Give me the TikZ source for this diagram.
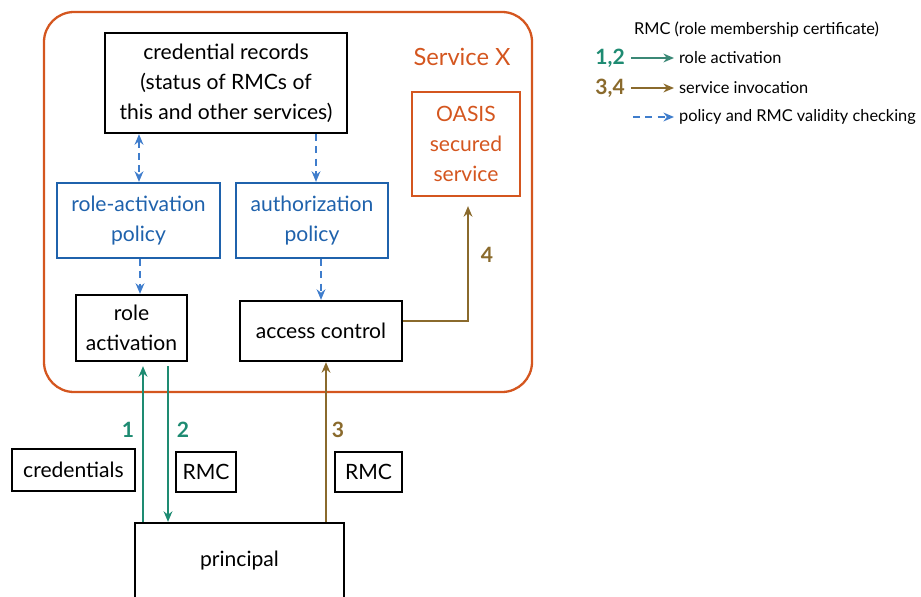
\documentclass[tikz,border=0pt]{standalone}
\usepackage{fontspec}
\setmainfont{Lato}
\usepackage{tikz}
\usetikzlibrary{positioning, arrows.meta, calc}
\definecolor{servcol}{HTML}{D4561F}
\definecolor{polcol}{HTML}{1F62AC}
\definecolor{chkcol}{HTML}{3F7DCC}
\definecolor{actcol}{HTML}{1E8B72}
\definecolor{invcol}{HTML}{8A6A2C}
\tikzset{
  % plain black box
  box/.style={draw=black, line width=1.3pt, align=center, inner sep=2pt,
              font=\fontsize{12}{17}\selectfont},
  % blue policy box
  policy/.style={box, draw=polcol, text=polcol},
  % orange secured service
  secured/.style={box, draw=servcol, text=servcol},
  % arrows
  act arrow/.style={-{Stealth[length=6pt,width=5pt]}, actcol, line width=1pt},
  inv arrow/.style={-{Stealth[length=6pt,width=5pt]}, invcol, line width=1pt},
  check arrow/.style={-{Stealth[length=6pt,width=5pt]}, chkcol, dashed,
                      dash pattern=on 4pt off 3pt, line width=1pt},
  % step numbers
  num/.style={font=\bfseries\fontsize{12}{14}\selectfont, text=#1},
  legend/.style={font=\fontsize{9.3}{12}\selectfont, anchor=west, inner sep=1pt},
}

\begin{document}
\begin{tikzpicture}
  \useasboundingbox (0,0) rectangle (18.42,-11.92);
  % service frame
  \draw[servcol, line width=1.3pt, rounded corners=0.6cm]
    (0.88,-0.24) rectangle (10.64,-7.84);
  \node[font=\fontsize{13.5}{15}\selectfont, text=servcol] (svc) at (9.24,-1.14) {Service X};

  % boxes inside the service
  \node[box, minimum width=4.84cm, minimum height=2.0cm] (records) at (4.52,-1.66)
    {credential records\\(status of RMCs of\\this and other services)};
  \node[secured, minimum width=2.16cm, minimum height=2.08cm] (oasis) at (9.32,-2.88)
    {OASIS\\secured\\service};
  \node[policy, minimum width=3.26cm, minimum height=1.5cm] (rapol) at (2.77,-4.41)
    {role-activation\\policy};
  \node[policy, minimum width=3.04cm, minimum height=1.5cm] (authpol) at (6.24,-4.41)
    {authorization\\policy};
  \node[box, minimum width=2.22cm, minimum height=1.32cm] (ract) at (2.63,-6.56)
    {role\\activation};
  \node[box, minimum width=3.24cm, minimum height=1.2cm] (acc) at (6.42,-6.62)
    {access control};

  % outside the service
  \node[box, minimum width=2.46cm, minimum height=0.84cm] (creds) at (1.47,-9.40)
    {credentials};
  \node[box, minimum width=1.2cm, minimum height=0.8cm] (rmca) at (4.12,-9.44) {RMC};
  \node[box, minimum width=1.34cm, minimum height=0.8cm] (rmcb) at (7.37,-9.44) {RMC};
  \node[box, minimum width=4.18cm, minimum height=1.5cm] (principal) at (4.79,-11.21)
    {principal};

  % checking
  \coordinate (c1) at ([xshift=-1.74cm]records.south);
  \coordinate (c2) at ([xshift=1.8cm]records.south);
  \draw[check arrow, {Stealth[length=6pt,width=5pt]}-{Stealth[length=6pt,width=5pt]}]
    (c1) -- (c1 |- rapol.north);
  \draw[check arrow] (c2) -- (c2 |- authpol.north);
  \draw[check arrow] ([xshift=0.03cm]rapol.south) -- ([xshift=0.03cm]rapol.south |- ract.north);
  \draw[check arrow] ([xshift=0.18cm]authpol.south) -- ([xshift=0.18cm]authpol.south |- acc.north);

  % role activation 1,2
  \coordinate (a1) at ([xshift=0.23cm]ract.south);
  \coordinate (a2) at ([xshift=0.73cm]ract.south);
  \draw[act arrow] (a1 |- principal.north) -- ([yshift=-0.08cm]a1);
  \draw[act arrow] ([yshift=-0.08cm]a2) -- (a2 |- principal.north);
  \node[num=actcol] (n1) at (2.56,-8.6) {1};
  \node[num=actcol] (n2) at (3.66,-8.6) {2};

  % service invocation 3,4
  \coordinate (a3) at ([xshift=0.1cm]acc.south);
  \draw[inv arrow] (a3 |- principal.north) -- (a3);
  \coordinate (a4) at ([xshift=0.04cm, yshift=-0.18cm]oasis.south);
  \draw[inv arrow] ([yshift=0.2cm]acc.east) -| (a4);
  \node[num=invcol] (n3) at (6.76,-8.6) {3};
  \node[num=invcol] (n4) at (9.74,-5.1) {4};

  % legend
  \node[legend] (lrmc) at (12.64,-0.6) {RMC (role membership certificate)};
  \node[num=actcol, anchor=east] (l12) at (12.62,-1.16) {1,2};
  \node[num=invcol, anchor=east] (l34) at (12.62,-1.76) {3,4};
  \node[legend] (lact) at (13.54,-1.16) {role activation};
  \node[legend] (linv) at (13.54,-1.76) {service invocation};
  \node[legend] (lchk) at (13.54,-2.34) {policy and RMC validity checking};
  \draw[act arrow, line width=1.6pt, actcol!70!gray] (l12.east) -- ([xshift=-0.06cm]lact.west);
  \draw[inv arrow, line width=1.6pt] (l34.east) -- ([xshift=-0.06cm]linv.west);
  \coordinate (lc) at (12.66,-2.34);
  \draw[check arrow] (lc) -- ([xshift=-0.06cm]lchk.west);
\end{tikzpicture}
\end{document}
